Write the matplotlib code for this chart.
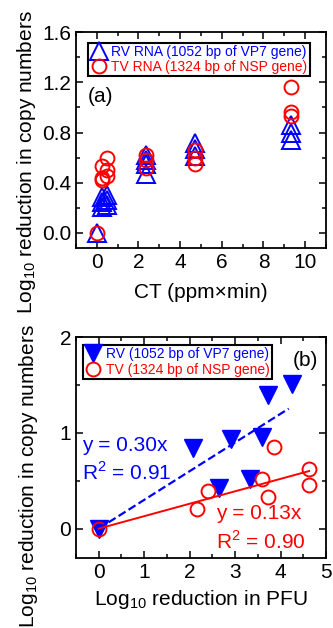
import numpy as np
import matplotlib
matplotlib.use('Agg')
import matplotlib.pyplot as plt
from matplotlib.ticker import MultipleLocator

plt.rcParams['font.family'] = ['Liberation Sans', 'DejaVu Sans']
plt.rcParams['mathtext.fontset'] = 'custom'
plt.rcParams['mathtext.rm'] = 'Liberation Sans'

# ---- panel (a): reduction in copy numbers vs CT ----
rv_ct = [0, 0.23, 0.23, 0.23, 0.47, 0.47, 0.47, 2.35, 2.35, 2.35, 2.35,
         4.7, 4.7, 4.7, 9.3, 9.3, 9.3]
rv_red = [0.0, 0.21, 0.25, 0.29, 0.22, 0.26, 0.30, 0.47, 0.55, 0.58, 0.62,
          0.61, 0.67, 0.72, 0.74, 0.80, 0.86]
tv_ct = [0, 0.23, 0.23, 0.23, 0.47, 0.47, 0.47, 2.35, 2.35, 2.35,
         4.7, 4.7, 4.7, 9.3, 9.3, 9.3]
tv_red = [0.0, 0.42, 0.44, 0.53, 0.45, 0.50, 0.60, 0.52, 0.58, 0.62,
          0.55, 0.60, 0.66, 0.93, 0.96, 1.16]

# ---- panel (b): reduction in copy numbers vs reduction in PFU ----
rv_pfu = [0, 2.07, 2.9, 2.65, 3.33, 3.6, 3.73, 4.25]
rv_cn = [0.0, 0.84, 0.94, 0.42, 0.52, 0.96, 1.40, 1.51]
tv_pfu = [0, 2.17, 2.41, 3.59, 3.73, 3.86, 4.63, 4.63]
tv_cn = [0.0, 0.21, 0.39, 0.52, 0.33, 0.85, 0.62, 0.46]
rv_slope, rv_r2 = 0.30, 0.91
tv_slope, tv_r2 = 0.13, 0.90

blue = '#0000ff'
red = '#ff0000'
fs = 15
lfs = 10

fig = plt.figure(figsize=(3.33, 6.28), dpi=100)
ax1 = fig.add_axes([0.228, 0.605, 0.751, 0.344])
ax2 = fig.add_axes([0.228, 0.111, 0.751, 0.352])


def style(ax):
    for s in ax.spines.values():
        s.set_linewidth(1.3)
    ax.tick_params(which='both', direction='in', top=True, right=True,
                   width=1.1, labelsize=fs)
    ax.tick_params(which='major', length=5)
    ax.tick_params(which='minor', length=3)


def legend(ax, anchor):
    leg = ax.legend(loc='upper left', bbox_to_anchor=anchor, borderaxespad=0,
                    fontsize=lfs, fancybox=False, edgecolor='k', framealpha=1,
                    handletextpad=0.3, handlelength=1.2, borderpad=0.15,
                    labelspacing=0.1)
    leg.get_frame().set_linewidth(1.5)
    for t, c in zip(leg.get_texts(), [blue, red]):
        t.set_color(c)
    return leg


ax1.plot(rv_ct, rv_red, ls='none', marker='^', ms=12.5, mfc='none',
         mec=blue, mew=1.4, label='RV RNA (1052 bp of VP7 gene)')
ax1.plot(tv_ct, tv_red, ls='none', marker='o', ms=10, mfc='none',
         mec=red, mew=1.4, label='TV RNA (1324 bp of NSP gene)')
ax1.set_xlim(-1, 11)
ax1.set_ylim(-0.12, 1.6)
ax1.xaxis.set_major_locator(MultipleLocator(2))
ax1.xaxis.set_minor_locator(MultipleLocator(1))
ax1.yaxis.set_major_locator(MultipleLocator(0.4))
ax1.yaxis.set_minor_locator(MultipleLocator(0.2))
ax1.set_xlabel('CT (ppm×min)', fontsize=fs, labelpad=8)
ax1.set_ylabel('Log$_{10}$ reduction in copy numbers', fontsize=fs)
ax1.yaxis.set_label_coords(-0.15, 0.40)
style(ax1)
legend(ax1, (0.05, 0.95))
ax1.text(0.047, 0.70, '(a)', transform=ax1.transAxes, fontsize=fs, va='center')

ax2.plot(rv_pfu, rv_cn, ls='none', marker='v', ms=12.5, mfc=blue, mec=blue,
         label='RV (1052 bp of VP7 gene)')
ax2.plot(tv_pfu, tv_cn, ls='none', marker='o', ms=10, mfc='none', mec=red,
         mew=1.4, label='TV (1324 bp of NSP gene)')
xr = np.array([0, 4.18])
ax2.plot(xr, rv_slope * xr, color=blue, ls='--', lw=1.6)
xt = np.array([0, 4.63])
ax2.plot(xt, tv_slope * xt, color=red, ls='-', lw=1.4)
ax2.set_xlim(-0.5, 5)
ax2.set_ylim(-0.31, 2.0)
ax2.xaxis.set_major_locator(MultipleLocator(1))
ax2.xaxis.set_minor_locator(MultipleLocator(0.5))
ax2.yaxis.set_major_locator(MultipleLocator(1))
ax2.yaxis.set_minor_locator(MultipleLocator(0.5))
ax2.set_xlabel('Log$_{10}$ reduction in PFU', fontsize=fs, labelpad=4)
ax2.set_ylabel('Log$_{10}$ reduction in copy numbers', fontsize=fs)
ax2.yaxis.set_label_coords(-0.142, 0.37)
style(ax2)
legend(ax2, (0.028, 0.964))
ax2.text(0.866, 0.896, '(b)', transform=ax2.transAxes, fontsize=fs, va='center')
ax2.text(-0.37, 0.87, 'y = %.2fx' % rv_slope, color=blue, fontsize=fs, va='center')
ax2.text(-0.37, 0.59, 'R$^2$ = %.2f' % rv_r2, color=blue, fontsize=fs, va='center')
ax2.text(2.57, 0.16, 'y = %.2fx' % tv_slope, color=red, fontsize=fs, va='center')
ax2.text(2.57, -0.13, 'R$^2$ = %.2f' % tv_r2, color=red, fontsize=fs, va='center')

fig.savefig('out.png', dpi=100)
